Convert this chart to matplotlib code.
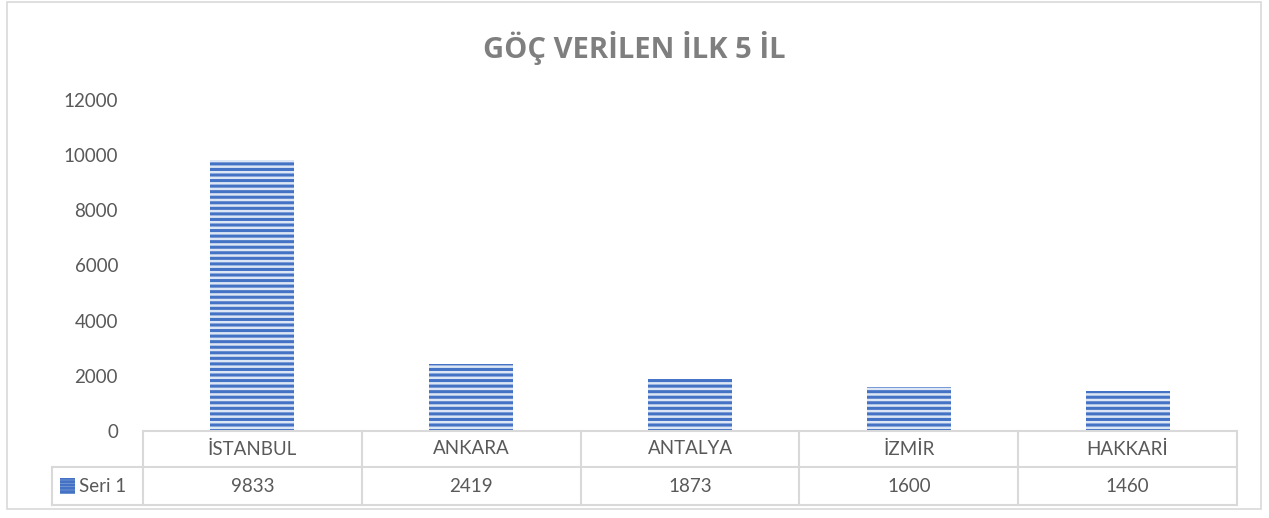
import matplotlib
matplotlib.use("Agg")
import matplotlib.pyplot as plt
from matplotlib.patches import Rectangle

plt.rcParams['font.family'] = ['Lato', 'DejaVu Sans']
plt.rcParams['hatch.linewidth'] = 2.2

categories = ["İSTANBUL", "ANKARA", "ANTALYA", "İZMİR", "HAKKARİ"]
values = [9833, 2419, 1873, 1600, 1460]
series_name = "Seri 1"
title = "GÖÇ VERİLEN İLK 5 İL"

W, H = 1269, 518
BLUE = "#4472c4"
LIGHT = "#dde6f4"
GRID = "#d9d9d9"
TXT = "#595959"

fig = plt.figure(figsize=(W / 100, H / 100), dpi=100)

# plot area in pixels
x0, x1 = 143, 1237
y_top, y_zero = 100, 431
ax = fig.add_axes([x0 / W, 1 - y_zero / H, (x1 - x0) / W, (y_zero - y_top) / H])

n = len(categories)
xs = [i + 0.5 for i in range(n)]
ax.bar(xs, values, width=0.384, facecolor=LIGHT, edgecolor=BLUE,
       linewidth=0, hatch="---")
ax.set_xlim(0, n)
ax.set_ylim(0, 12000)
ax.set_yticks(range(0, 12001, 2000))
ax.tick_params(axis="y", length=0, pad=18, labelsize=13.5, labelcolor=TXT)
ax.set_xticks([])
for s in ax.spines.values():
    s.set_visible(False)

# data table under the axis, drawn in pixel coordinates of the figure
def fx(px):
    return px / W

def fy(py):
    return 1 - py / H

col_w = (x1 - x0) / n
r0, r1, r2 = 431, 467, 505
leg_x = 52

def hline(xa, xb, y):
    fig.add_artist(plt.Line2D([fx(xa), fx(xb)], [fy(y), fy(y)], color=GRID, lw=1.5))

def vline(x, ya, yb):
    fig.add_artist(plt.Line2D([fx(x), fx(x)], [fy(ya), fy(yb)], color=GRID, lw=1.5))

hline(x0, x1, r0)
hline(leg_x, x1, r1)
hline(leg_x, x1, r2)
vline(leg_x, r1, r2)
for i in range(n + 1):
    vline(x0 + i * col_w, r0, r2)

for i, (cat, val) in enumerate(zip(categories, values)):
    cx = x0 + (i + 0.5) * col_w
    fig.text(fx(cx), fy((r0 + r1) / 2), cat, ha="center", va="center",
             fontsize=13.5, color=TXT)
    fig.text(fx(cx), fy((r1 + r2) / 2), str(val), ha="center", va="center",
             fontsize=13.5, color=TXT)

# legend key + series name
fig.add_artist(Rectangle((fx(60), fy(494)), fx(75) - fx(60), fy(478) - fy(494),
                         facecolor=LIGHT, edgecolor=BLUE, linewidth=0,
                         hatch="-----", transform=fig.transFigure))
fig.text(fx(79), fy((r1 + r2) / 2), series_name, ha="left", va="center",
         fontsize=13.5, color=TXT)

# title
fig.text(0.5 * (435 + 833) / W, fy(48), title, ha="center", va="center",
         fontsize=21, fontweight="bold", color="#7f7f7f",
         family=["Open Sans", "DejaVu Sans"])

# outer chart border
fig.add_artist(Rectangle((fx(7), fy(509)), fx(1261) - fx(7), fy(2) - fy(509),
                         fill=False, edgecolor=GRID, linewidth=1.2,
                         transform=fig.transFigure))

fig.savefig("out.png", dpi=100)
